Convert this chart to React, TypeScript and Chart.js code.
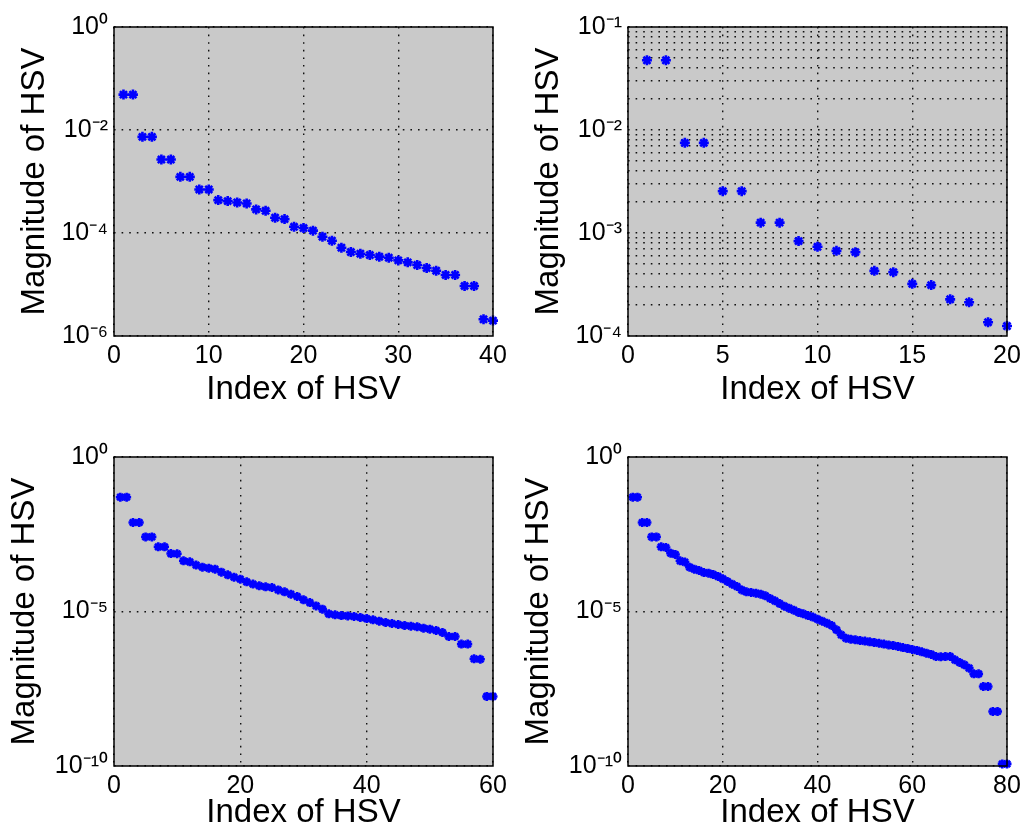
import React, { useEffect, useRef } from "react";
import { Chart, registerables } from "chart.js";

Chart.register(...registerables);

// ---- Data ----
const hsv40: number[] = [
  0.0487, 0.0487, 0.00736, 0.00736, 0.00267, 0.00267, 0.00123, 0.00123, 7.0e-4, 7.0e-4,
  4.35e-4, 4.16e-4, 3.92e-4, 3.75e-4, 2.87e-4, 2.7e-4, 1.98e-4, 1.86e-4, 1.32e-4, 1.25e-4,
  1.11e-4, 8.47e-5, 7.08e-5, 5.18e-5, 4.27e-5, 3.96e-5, 3.73e-5, 3.47e-5, 3.31e-5, 2.94e-5,
  2.69e-5, 2.39e-5, 2.09e-5, 1.85e-5, 1.53e-5, 1.53e-5, 9.35e-6, 9.35e-6, 2.11e-6, 1.99e-6,
];

const hsv20: number[] = [
  0.0475, 0.0475, 0.0075, 0.0075, 0.00255, 0.00255, 0.00126, 0.00126, 8.34e-4, 7.35e-4,
  6.71e-4, 6.52e-4, 4.29e-4, 4.17e-4, 3.21e-4, 3.12e-4, 2.27e-4, 2.13e-4, 1.36e-4, 1.25e-4,
];

const hsv60: number[] = [
  0.05, 0.05, 0.0076, 0.0076, 0.0026, 0.0026, 0.00124, 0.00124, 7.5e-4, 7.4e-4,
  4.37e-4, 4.05e-4, 3.17e-4, 2.72e-4, 2.52e-4, 2.34e-4, 1.88e-4, 1.54e-4, 1.29e-4, 1.11e-4,
  9.1e-5, 7.7e-5, 6.8e-5, 6.3e-5, 5.98e-5, 5.0e-5, 4.32e-5, 3.63e-5, 3.06e-5, 2.39e-5,
  1.95e-5, 1.52e-5, 1.19e-5, 8.4e-6, 7.8e-6, 7.4e-6, 7.2e-6, 6.9e-6, 6.4e-6, 5.9e-6,
  5.37e-6, 4.87e-6, 4.41e-6, 4.09e-6, 3.8e-6, 3.52e-6, 3.35e-6, 3.19e-6, 2.89e-6, 2.68e-6,
  2.43e-6, 2.09e-6, 1.55e-6, 1.55e-6, 8.8e-7, 8.8e-7, 2.95e-7, 2.85e-7, 1.78e-8, 1.78e-8,
];

const hsv80: number[] = [
  0.05, 0.05, 0.0076, 0.0076, 0.0026, 0.0026, 0.00124, 0.00118, 7.7e-4, 7.0e-4,
  4.37e-4, 3.98e-4, 2.72e-4, 2.34e-4, 2.12e-4, 1.83e-4, 1.74e-4, 1.57e-4, 1.36e-4, 1.14e-4,
  9.34e-5, 7.67e-5, 6.45e-5, 5.0e-5, 4.32e-5, 4.12e-5, 3.92e-5, 3.63e-5, 3.21e-5, 2.63e-5,
  2.21e-5, 1.81e-5, 1.49e-5, 1.28e-5, 1.1e-5, 9.3e-6, 8.4e-6, 7.4e-6, 6.6e-6, 5.65e-6,
  4.87e-6, 4.19e-6, 3.52e-6, 2.55e-6, 1.76e-6, 1.37e-6, 1.27e-6, 1.21e-6, 1.15e-6, 1.1e-6,
  1.04e-6, 9.9e-7, 9.4e-7, 8.8e-7, 8.3e-7, 7.9e-7, 7.4e-7, 6.8e-7, 6.4e-7, 5.9e-7,
  5.5e-7, 4.96e-7, 4.47e-7, 4.07e-7, 3.5e-7, 3.41e-7, 3.5e-7, 3.5e-7, 2.73e-7, 2.24e-7,
  1.88e-7, 1.47e-7, 9.6e-8, 9.6e-8, 3.74e-8, 3.74e-8, 5.8e-9, 5.8e-9, 1.17e-10, 1.17e-10,
];

// Tick definitions
const xTicks40: number[] = [0, 10, 20, 30, 40];
const xTicks20: number[] = [0, 5, 10, 15, 20];
const xTicks60: number[] = [0, 20, 40, 60];
const xTicks80: number[] = [0, 20, 40, 60, 80];

const yLabels40: number[] = [1e-6, 1e-4, 1e-2, 1];
const yLabels20: number[] = [1e-4, 1e-3, 1e-2, 1e-1];
const yMinor20: number[] = [
  2e-4, 3e-4, 4e-4, 5e-4, 6e-4, 7e-4, 8e-4, 9e-4,
  2e-3, 3e-3, 4e-3, 5e-3, 6e-3, 7e-3, 8e-3, 9e-3,
  2e-2, 3e-2, 4e-2, 5e-2, 6e-2, 7e-2, 8e-2, 9e-2,
];
const yLabels60: number[] = [1e-10, 1e-5, 1];
const yLabels80: number[] = [1e-10, 1e-5, 1];

const X_TITLE = "Index of HSV";
const Y_TITLE = "Magnitude of HSV";

const FONT = '"Liberation Sans", Arial, Helvetica, sans-serif';
const SUP: Record<string, string> = {
  "0": "\u2070", "1": "\u00B9", "2": "\u00B2", "3": "\u00B3", "4": "\u2074",
  "5": "\u2075", "6": "\u2076", "7": "\u2077", "8": "\u2078", "9": "\u2079", "-": "\u207B",
};
const powLabel = (v: number) => {
  const e = Math.round(Math.log10(v));
  return "10" + String(e).split("").map((c) => SUP[c] ?? c).join("");
};

type PanelProps = {
  values: number[];
  xTicks: number[];
  yLabels: number[];
  yMinor: number[];
  left: number;
  top: number;
  padTop: number;
  plotBottom: number;
  yTitlePad: number;
  xTitlePad: number;
  radius: number;
};

const W = 514;
const H = 419;

const framePlugin = {
  id: "frame",
  beforeDraw(chart: any) {
    const { ctx, chartArea } = chart;
    ctx.save();
    ctx.fillStyle = "#c9c9c9";
    ctx.fillRect(chartArea.left, chartArea.top, chartArea.right - chartArea.left, chartArea.bottom - chartArea.top);
    ctx.restore();
  },
  afterDraw(chart: any) {
    const { ctx, chartArea } = chart;
    ctx.save();
    ctx.strokeStyle = "#000";
    ctx.lineWidth = 1.5;
    ctx.setLineDash([]);
    ctx.strokeRect(chartArea.left, chartArea.top, chartArea.right - chartArea.left, chartArea.bottom - chartArea.top);
    ctx.restore();
  },
};

function Panel(p: PanelProps) {
  const ref = useRef<HTMLCanvasElement | null>(null);
  useEffect(() => {
    if (!ref.current) return;
    const points = p.values.map((v, i) => ({ x: i + 1, y: v }));
    const yAll = [...p.yLabels, ...p.yMinor].sort((a, b) => a - b);
    const isLabel = (v: number) => p.yLabels.some((l) => Math.abs(Math.log10(l) - Math.log10(v)) < 1e-9);
    const chart = new Chart(ref.current, {
      type: "scatter",
      data: {
        datasets: [
          {
            data: points,
            pointStyle: "star",
            radius: p.radius,
            borderWidth: 2.6,
            borderColor: "#0000ff",
            backgroundColor: "#0000ff",
            showLine: false,
            clip: false as any,
          },
        ],
      },
      options: {
        animation: false,
        responsive: false,
        events: [],
        layout: { padding: { left: 0, top: p.padTop, right: 21, bottom: 0 } },
        plugins: { legend: { display: false }, tooltip: { enabled: false } },
        scales: {
          x: {
            type: "linear",
            min: p.xTicks[0],
            max: p.xTicks[p.xTicks.length - 1],
            afterBuildTicks: (s: any) => {
              s.ticks = p.xTicks.map((v) => ({ value: v }));
            },
            afterFit: (s: any) => {
              s.height = H - p.plotBottom;
            },
            ticks: {
              autoSkip: false,
              maxRotation: 0,
              padding: 5,
              color: "#000",
              font: { family: FONT, size: 25 },
            },
            grid: { color: "#111", lineWidth: 1.4, drawTicks: false },
            border: { display: false, dash: [1.6, 6] },
            title: {
              display: true,
              text: X_TITLE,
              color: "#000",
              font: { family: FONT, size: 33 },
              padding: { top: 0, bottom: p.xTitlePad },
            },
          },
          y: {
            type: "logarithmic",
            min: p.yLabels[0],
            max: p.yLabels[p.yLabels.length - 1],
            afterBuildTicks: (s: any) => {
              s.ticks = yAll.map((v) => ({ value: v }));
            },
            afterFit: (s: any) => {
              s.width = 114;
            },
            ticks: {
              autoSkip: false,
              padding: 6,
              color: "#000",
              font: { family: FONT, size: 25 },
              callback: (v: any) => (isLabel(Number(v)) ? powLabel(Number(v)) : ""),
            },
            grid: { color: "#111", lineWidth: 1.4, drawTicks: false },
            border: { display: false, dash: [1.6, 6] },
            title: {
              display: true,
              text: Y_TITLE,
              color: "#000",
              font: { family: FONT, size: 33 },
              padding: { top: p.yTitlePad, bottom: 0 },
            },
          },
        },
      } as any,
      plugins: [framePlugin],
    });
    return () => chart.destroy();
  }, []);
  return (
    <canvas
      ref={ref}
      width={W}
      height={H}
      style={{ position: "absolute", left: p.left, top: p.top, width: W, height: H, display: "block" }}
    />
  );
}

export default function App() {
  return (
    <div style={{ position: "absolute", left: 0, top: 0, width: 1028, height: 838, background: "#fff" }}>
      <Panel values={hsv40} xTicks={xTicks40} yLabels={yLabels40} yMinor={[]} left={0} top={0}
        padTop={27} plotBottom={336} yTitlePad={15} xTitlePad={9} radius={5} />
      <Panel values={hsv20} xTicks={xTicks20} yLabels={yLabels20} yMinor={yMinor20} left={514} top={0}
        padTop={27} plotBottom={336} yTitlePad={15} xTitlePad={9} radius={5} />
      <Panel values={hsv60} xTicks={xTicks60} yLabels={yLabels60} yMinor={[]} left={0} top={419}
        padTop={38} plotBottom={347} yTitlePad={5} xTitlePad={5} radius={4.5} />
      <Panel values={hsv80} xTicks={xTicks80} yLabels={yLabels80} yMinor={[]} left={514} top={419}
        padTop={38} plotBottom={347} yTitlePad={5} xTitlePad={5} radius={4.5} />
    </div>
  );
}
